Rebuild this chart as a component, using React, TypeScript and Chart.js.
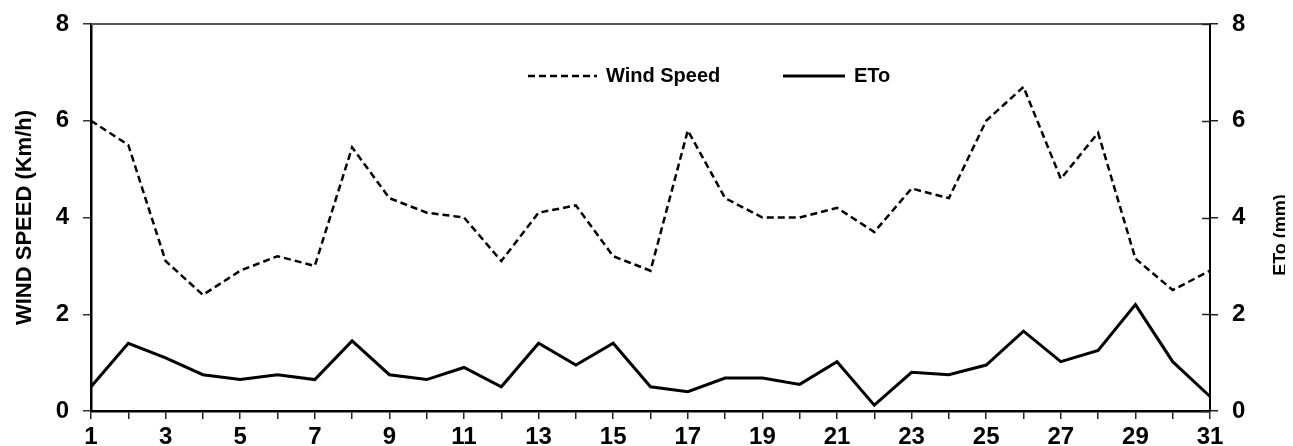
import React, { useEffect, useRef } from 'react';
import { Chart, registerables } from 'chart.js';

Chart.register(...registerables);

const days = ['1','2','3','4','5','6','7','8','9','10','11','12','13','14','15','16','17','18','19','20','21','22','23','24','25','26','27','28','29','30','31'];
const windSpeed = [6.0, 5.5, 3.1, 2.4, 2.9, 3.2, 3.0, 5.45, 4.4, 4.1, 4.0, 3.1, 4.1, 4.25, 3.2, 2.9, 5.8, 4.4, 4.0, 4.0, 4.2, 3.7, 4.6, 4.4, 6.0, 6.7, 4.8, 5.75, 3.15, 2.5, 2.9];
const eto = [0.5, 1.4, 1.1, 0.75, 0.65, 0.75, 0.65, 1.45, 0.75, 0.65, 0.9, 0.5, 1.4, 0.95, 1.4, 0.5, 0.4, 0.68, 0.68, 0.55, 1.02, 0.12, 0.8, 0.75, 0.95, 1.65, 1.02, 1.25, 2.2, 1.02, 0.3];
const yMin = 0;
const yMax = 8;
const yStep = 2;
const leftTitle = 'WIND SPEED (Km/h)';
const rightTitle = 'ETo (mm)';
const seriesLabels = ['Wind Speed', 'ETo'];

const FONT = "'Liberation Sans', Arial, Helvetica, sans-serif";

const framePlugin = {
  id: 'frameExtras',
  afterDraw(chart: any) {
    const { ctx, chartArea } = chart;
    const y1 = chart.scales.y1;
    ctx.save();
    // top border
    ctx.strokeStyle = '#555';
    ctx.lineWidth = 2;
    ctx.beginPath();
    ctx.moveTo(chartArea.left, chartArea.top);
    ctx.lineTo(chartArea.right, chartArea.top);
    ctx.stroke();
    // inner half of right ticks
    ctx.strokeStyle = '#222';
    ctx.lineWidth = 1.5;
    y1.ticks.forEach((t: any) => {
      const py = Math.round(y1.getPixelForValue(t.value)) + 0.5;
      ctx.beginPath();
      ctx.moveTo(chartArea.right - 8, py);
      ctx.lineTo(chartArea.right, py);
      ctx.stroke();
    });
    // right title, reading bottom to top
    ctx.fillStyle = '#000';
    ctx.font = `bold 18px ${FONT}`;
    ctx.textAlign = 'center';
    ctx.textBaseline = 'middle';
    ctx.translate(chartArea.right + 71, chartArea.top + 211);
    ctx.rotate(-Math.PI / 2);
    ctx.fillText(rightTitle, 0, 0);
    ctx.restore();

    // inline legend
    const items = [
      { x: chartArea.left + 437, len: 69 },
      { x: chartArea.left + 692, len: 62 },
    ];
    const ly = chartArea.top + 52;
    ctx.save();
    chart.data.datasets.forEach((ds: any, i: number) => {
      const it = items[i];
      ctx.strokeStyle = ds.borderColor;
      ctx.lineWidth = ds.borderWidth;
      ctx.setLineDash(ds.borderDash || []);
      ctx.beginPath();
      ctx.moveTo(it.x, ly);
      ctx.lineTo(it.x + it.len, ly);
      ctx.stroke();
      ctx.setLineDash([]);
      ctx.fillStyle = '#000';
      ctx.font = `bold 20px ${FONT}`;
      ctx.textAlign = 'left';
      ctx.textBaseline = 'middle';
      ctx.fillText(ds.label, it.x + it.len + 9, ly);
    });
    ctx.restore();
  },
};

const fixVertical = (w: number) => (s: any) => {
  s.width = w;
  s.paddingTop = 24;
  s.paddingBottom = 12;
};

export default function App() {
  const ref = useRef<HTMLCanvasElement>(null);
  useEffect(() => {
    if (!ref.current) return;
    const chart = new Chart(ref.current, {
      type: 'line',
      data: {
        labels: days,
        datasets: [
          {
            label: seriesLabels[0],
            data: windSpeed,
            borderColor: '#000',
            borderWidth: 2.5,
            borderDash: [7, 4],
            pointRadius: 0,
            tension: 0,
            yAxisID: 'y',
          },
          {
            label: seriesLabels[1],
            data: eto,
            borderColor: '#000',
            borderWidth: 3,
            pointRadius: 0,
            tension: 0,
            yAxisID: 'y1',
          },
        ],
      },
      options: {
        responsive: false,
        animation: false,
        layout: { padding: 0 },
        plugins: {
          legend: { display: false },
          tooltip: { enabled: false },
        },
        scales: {
          x: {
            type: 'category',
            offset: false,
            border: { display: true, color: '#000', width: 2.5 },
            grid: { drawOnChartArea: false, drawTicks: true, tickLength: 8, color: '#222', lineWidth: 1.5, offset: false },
            ticks: {
              autoSkip: false,
              maxRotation: 0,
              padding: 4,
              color: '#000',
              font: { family: FONT, size: 24, weight: 'bold' },
              callback: (_v: any, i: number) => (i % 2 === 0 ? days[i] : ''),
            },
            afterFit: (s: any) => { s.height = 35; },
          },
          y: {
            position: 'left',
            min: yMin,
            max: yMax,
            border: { display: true, color: '#000', width: 2.5 },
            grid: { drawOnChartArea: false, drawTicks: true, tickLength: 8, color: '#333', lineWidth: 1.5 },
            ticks: { stepSize: yStep, padding: 14, color: '#000', font: { family: FONT, size: 24, weight: 'bold' } },
            title: { display: true, text: leftTitle, color: '#000', font: { family: FONT, size: 22, weight: 'bold' }, padding: { top: 12, bottom: 0 } },
            afterFit: fixVertical(91),
          },
          y1: {
            position: 'right',
            min: yMin,
            max: yMax,
            border: { display: true, color: '#000', width: 2 },
            grid: { drawOnChartArea: false, drawTicks: true, tickLength: 8, color: '#222', lineWidth: 1.5 },
            ticks: { stepSize: yStep, padding: 14, color: '#000', font: { family: FONT, size: 24, weight: 'bold' } },
            afterFit: fixVertical(83),
          },
        },
      },
      plugins: [framePlugin],
    });
    return () => chart.destroy();
  }, []);
  return (
    <canvas
      ref={ref}
      width={1293}
      height={446}
      style={{ display: 'block', marginLeft: -8, marginTop: -8 }}
    />
  );
}
